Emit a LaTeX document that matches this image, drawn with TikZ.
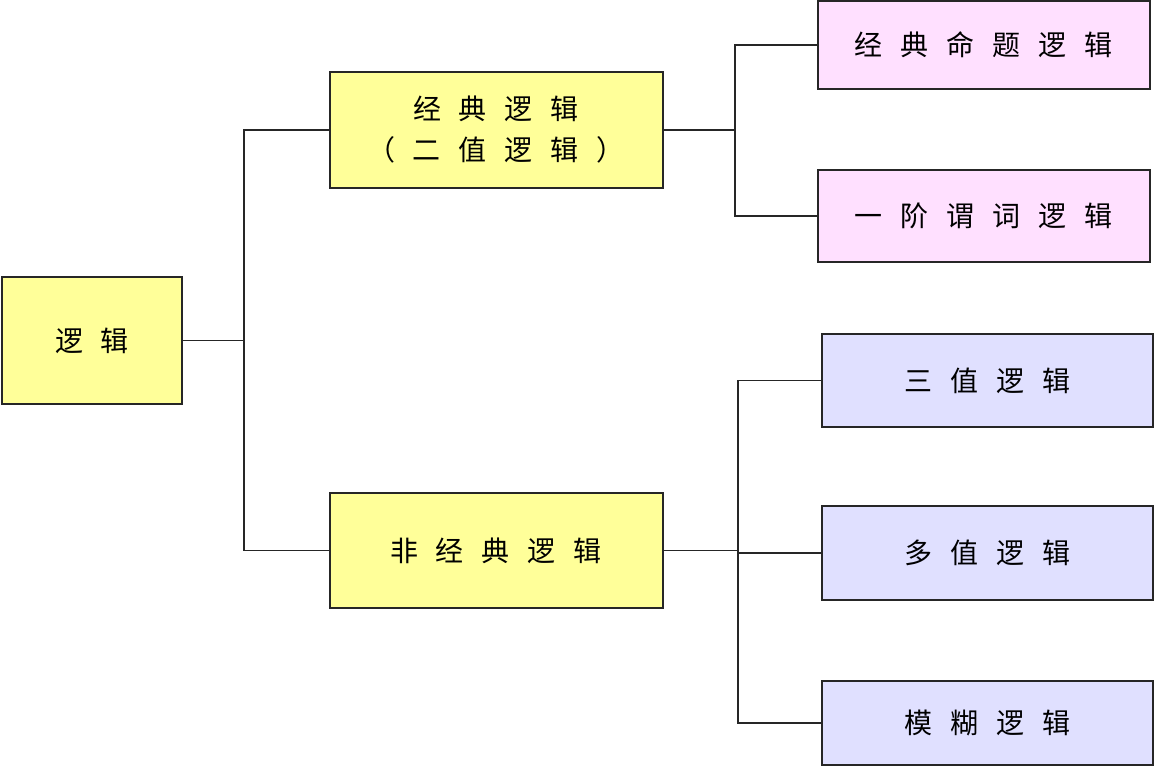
\documentclass[tikz,border=0pt]{standalone}
\usepackage{fontspec}
\newfontfamily\cjk{Noto Sans CJK SC}
\newcommand\gapx{\hspace{18pt}}
\definecolor{boxyellow}{HTML}{FFFF99}
\definecolor{boxpink}{HTML}{FFE0FF}
\definecolor{boxblue}{HTML}{E0E0FF}
\tikzset{
  box/.style={draw=black!85, line width=2pt, rectangle, inner sep=0pt, align=center,
    font=\cjk\fontsize{28pt}{41pt}\selectfont},
  ybox/.style={box, fill=boxyellow},
  pbox/.style={box, fill=boxpink},
  bbox/.style={box, fill=boxblue},
  conn/.style={draw=black!85, line width=1.8pt}
}
\begin{document}
\begin{tikzpicture}[x=1pt,y=-1pt]
\useasboundingbox (0,0) rectangle (1155,766);
\node[ybox, minimum width=180pt, minimum height=127pt] (root) at (92,340.5) {逻\gapx 辑};
\node[ybox, minimum width=333pt, minimum height=116pt] (c1) at (496,130) {经\gapx 典\gapx 逻\gapx 辑\\（\gapx 二\gapx 值\gapx 逻\gapx 辑\gapx ）};
\node[ybox, minimum width=333pt, minimum height=115pt] (c2) at (496,550.5) {非\gapx 经\gapx 典\gapx 逻\gapx 辑};
\node[pbox, minimum width=332pt, minimum height=88pt] (p1) at (983.5,45) {经\gapx 典\gapx 命\gapx 题\gapx 逻\gapx 辑};
\node[pbox, minimum width=332pt, minimum height=92pt] (p2) at (983.5,216) {一\gapx 阶\gapx 谓\gapx 词\gapx 逻\gapx 辑};
\node[bbox, minimum width=331pt, minimum height=93pt] (q1) at (987.5,380.5) {三\gapx 值\gapx 逻\gapx 辑};
\node[bbox, minimum width=331pt, minimum height=94pt] (q2) at (987.5,553) {多\gapx 值\gapx 逻\gapx 辑};
\node[bbox, minimum width=331pt, minimum height=84pt] (q3) at (987.5,723) {模\gapx 糊\gapx 逻\gapx 辑};
\coordinate (j1) at (244,0);
\coordinate (j2) at (735,0);
\coordinate (j3) at (738,0);
\draw[conn] (root.east) -- (root.east -| j1);
\draw[conn] (c1.west) -- (c1.west -| j1) -- (c2.west -| j1) -- (c2.west);
\draw[conn] (c1.east) -- (c1.east -| j2);
\draw[conn] (p1.west) -- (p1.west -| j2) -- (p2.west -| j2) -- (p2.west);
\draw[conn] (c2.east) -- (c2.east -| j3);
\draw[conn] (q1.west) -- (q1.west -| j3) -- (q3.west -| j3) -- (q3.west);
\draw[conn] (q2.west) -- (q2.west -| j3);
\end{tikzpicture}
\end{document}
